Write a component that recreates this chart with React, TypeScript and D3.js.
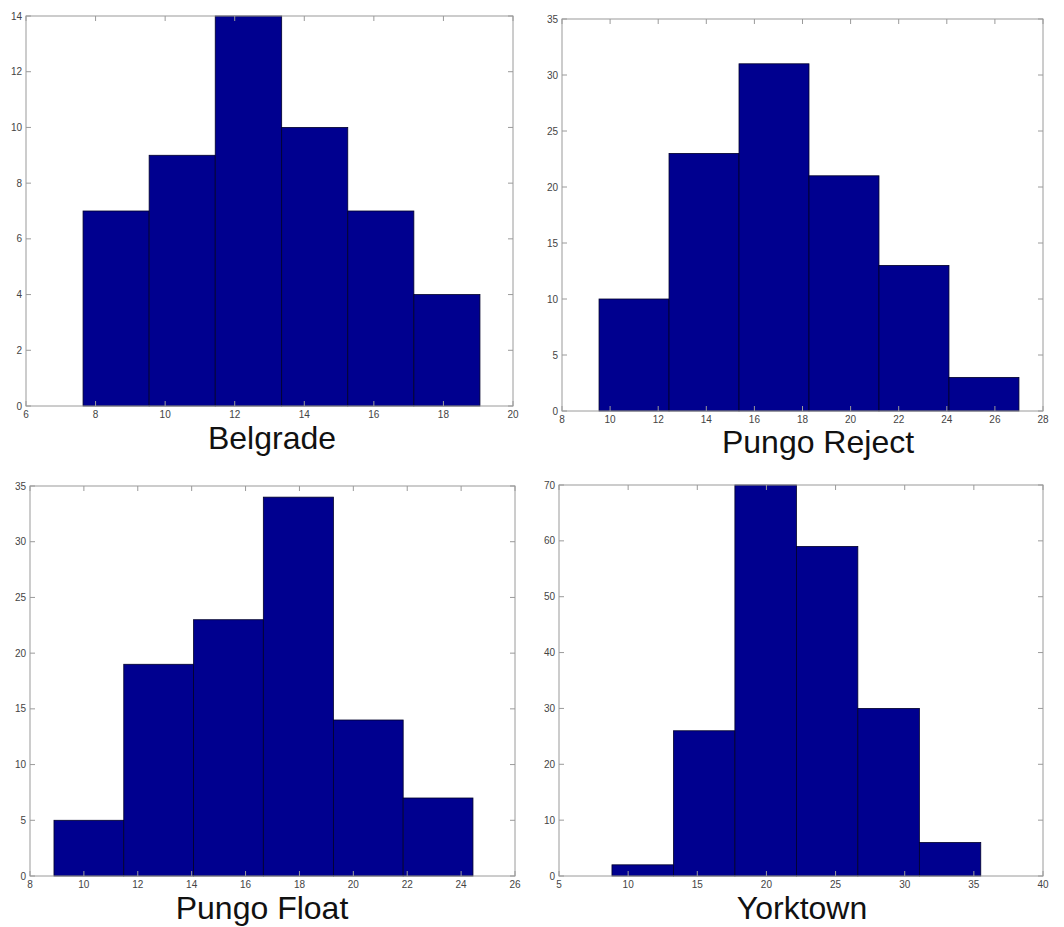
import React from 'react';
import * as d3 from 'd3';

// bin edges and counts
const belgradeEdges = [7.64, 9.54, 11.44, 13.35, 15.25, 17.15, 19.05];
const belgradeCounts = [7, 9, 14, 10, 7, 4];
const belgradeXTicks = [6, 8, 10, 12, 14, 16, 18, 20];
const belgradeYTicks = [0, 2, 4, 6, 8, 10, 12, 14];

const rejectEdges = [9.54, 12.45, 15.36, 18.27, 21.18, 24.09, 27.0];
const rejectCounts = [10, 23, 31, 21, 13, 3];
const rejectXTicks = [8, 10, 12, 14, 16, 18, 20, 22, 24, 26, 28];
const rejectYTicks = [0, 5, 10, 15, 20, 25, 30, 35];

const floatEdges = [8.89, 11.48, 14.07, 16.66, 19.26, 21.85, 24.44];
const floatCounts = [5, 19, 23, 34, 14, 7];
const floatXTicks = [8, 10, 12, 14, 16, 18, 20, 22, 24, 26];
const floatYTicks = [0, 5, 10, 15, 20, 25, 30, 35];

const yorktownEdges = [8.83, 13.28, 17.72, 22.17, 26.61, 31.06, 35.5];
const yorktownCounts = [2, 26, 70, 59, 30, 6];
const yorktownXTicks = [5, 10, 15, 20, 25, 30, 35, 40];
const yorktownYTicks = [0, 10, 20, 30, 40, 50, 60, 70];

interface Box {
  left: number;
  right: number;
  top: number;
  bottom: number;
}

interface PanelProps {
  title: string;
  edges: number[];
  counts: number[];
  xTicks: number[];
  yTicks: number[];
  box: Box;
  titleX: number;
  titleY: number;
}

const axisColor = '#9a9a9a';
const labelColor = '#444';
const barFill = '#00008f';
const tickLen = 5;

const Panel: React.FC<PanelProps> = ({ title, edges, counts, xTicks, yTicks, box, titleX, titleY }) => {
  const x = d3.scaleLinear().domain(d3.extent(xTicks) as [number, number]).range([box.left, box.right]);
  const y = d3.scaleLinear().domain(d3.extent(yTicks) as [number, number]).range([box.bottom, box.top]);

  return (
    <g>
      <rect x={box.left} y={box.top} width={box.right - box.left} height={box.bottom - box.top} fill="#fff" />
      {counts.map((c, i) => (
        <rect
          key={i}
          x={x(edges[i])}
          y={y(c)}
          width={x(edges[i + 1]) - x(edges[i])}
          height={y(0) - y(c)}
          fill={barFill}
          stroke="#00002a"
          strokeWidth={0.8}
        />
      ))}
      <rect
        x={box.left}
        y={box.top}
        width={box.right - box.left}
        height={box.bottom - box.top}
        fill="none"
        stroke={axisColor}
        strokeWidth={1}
      />
      {xTicks.map((t) => (
        <g key={'x' + t}>
          <line x1={x(t)} x2={x(t)} y1={box.bottom} y2={box.bottom - tickLen} stroke={axisColor} />
          <line x1={x(t)} x2={x(t)} y1={box.top} y2={box.top + tickLen} stroke={axisColor} />
          <text x={x(t)} y={box.bottom + 12} textAnchor="middle" fontSize={10} fill={labelColor}>
            {t}
          </text>
        </g>
      ))}
      {yTicks.map((t) => (
        <g key={'y' + t}>
          <line x1={box.left} x2={box.left + tickLen} y1={y(t)} y2={y(t)} stroke={axisColor} />
          <line x1={box.right} x2={box.right - tickLen} y1={y(t)} y2={y(t)} stroke={axisColor} />
          <text x={box.left - 4} y={y(t)} dy="0.35em" textAnchor="end" fontSize={10} fill={labelColor}>
            {t}
          </text>
        </g>
      ))}
      <text x={titleX} y={titleY} textAnchor="middle" fontSize={32} fill="#111">
        {title}
      </text>
    </g>
  );
};

export default function App() {
  return (
    <svg
      width={1064}
      height={927}
      style={{ position: 'absolute', left: 0, top: 0, fontFamily: '"Liberation Sans", Arial, sans-serif', background: '#fff' }}
    >
      <rect width={1064} height={927} fill="#fff" />
      <Panel
        title="Belgrade"
        edges={belgradeEdges}
        counts={belgradeCounts}
        xTicks={belgradeXTicks}
        yTicks={belgradeYTicks}
        box={{ left: 26, right: 513, top: 16, bottom: 406 }}
        titleX={272}
        titleY={449}
      />
      <Panel
        title="Pungo Reject"
        edges={rejectEdges}
        counts={rejectCounts}
        xTicks={rejectXTicks}
        yTicks={rejectYTicks}
        box={{ left: 562, right: 1043, top: 19, bottom: 411 }}
        titleX={818}
        titleY={453}
      />
      <Panel
        title="Pungo Float"
        edges={floatEdges}
        counts={floatCounts}
        xTicks={floatXTicks}
        yTicks={floatYTicks}
        box={{ left: 30, right: 515, top: 486, bottom: 876 }}
        titleX={262}
        titleY={919}
      />
      <Panel
        title="Yorktown"
        edges={yorktownEdges}
        counts={yorktownCounts}
        xTicks={yorktownXTicks}
        yTicks={yorktownYTicks}
        box={{ left: 559, right: 1043, top: 485, bottom: 876 }}
        titleX={802}
        titleY={919}
      />
    </svg>
  );
}
